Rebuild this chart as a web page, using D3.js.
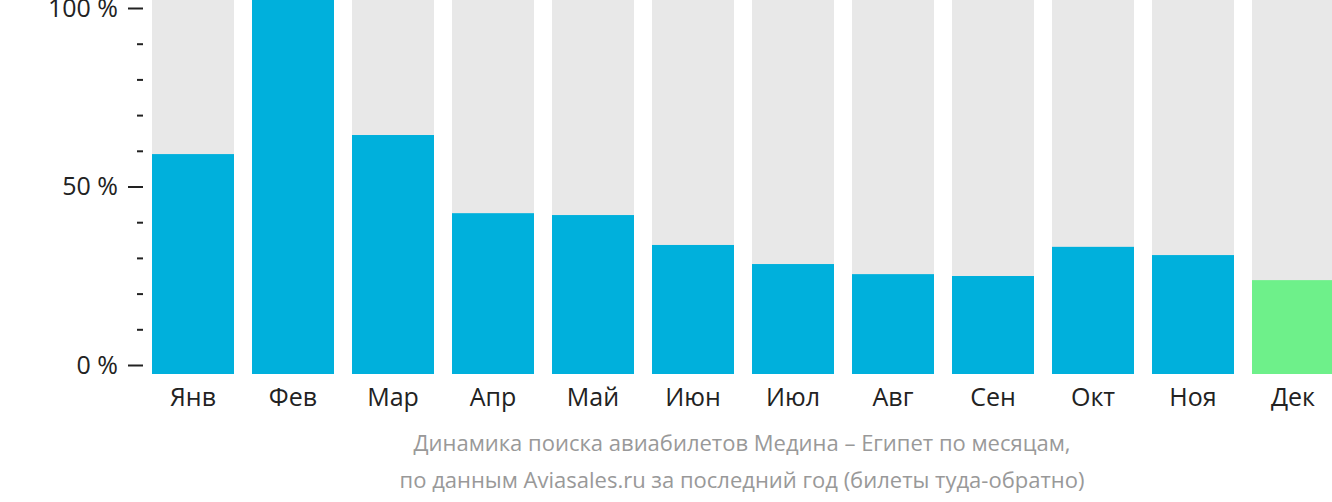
<!DOCTYPE html>
<html><head><meta charset="utf-8">
<script src="https://cdnjs.cloudflare.com/ajax/libs/d3/7.8.5/d3.min.js"></script>
<style>body{margin:0;background:#fff;}svg{display:block;font-family:"Open Sans",sans-serif;}</style>
</head><body>
<script>
const months = ["Янв","Фев","Мар","Апр","Май","Июн","Июл","Авг","Сен","Окт","Ноя","Дек"];
const values = [58.8,100,63.9,43.0,42.5,34.5,29.4,26.7,26.2,34.0,31.8,25.1];
const highlight = "Дек";
const majorTicks = [0,50,100];
const minorTicks = [10,20,30,40,60,70,80,90];
const caption = ["Динамика поиска авиабилетов Медина – Египет по месяцам,","по данным Aviasales.ru за последний год (билеты туда-обратно)"];

const W=1332,H=502;
const svg=d3.select("body").append("svg").attr("width",W).attr("height",H);
const x=d3.scaleBand().domain(months).range([152,1334]).paddingInner(0.18).paddingOuter(0);
const yBar=d3.scaleLinear().domain([0,100]).range([374,0]);
const yAx=d3.scaleLinear().domain([0,100]).range([365,8]);

svg.selectAll("rect.bg").data(months).join("rect").attr("class","bg")
 .attr("x",d=>x(d)).attr("width",x.bandwidth()).attr("y",yBar(100)).attr("height",yBar(0)-yBar(100)).attr("fill","#e8e8e8");
svg.selectAll("rect.v").data(values).join("rect").attr("class","v")
 .attr("x",(d,i)=>x(months[i])).attr("width",x.bandwidth()).attr("y",d=>yBar(d)).attr("height",d=>yBar(0)-yBar(d))
 .attr("fill",(d,i)=>months[i]===highlight?"#6ef08a":"#00b0dc");

const major=d3.axisLeft(yAx).tickValues(majorTicks).tickSize(15).tickPadding(10).tickFormat(d=>d+" %");
const gM=svg.append("g").attr("transform","translate(143,0)").call(major);
gM.select(".domain").remove();
gM.selectAll("line").attr("stroke","#222").attr("stroke-width",2);
gM.selectAll("text").attr("fill","#222").style("font-size","25px").style("font-family","'Open Sans',sans-serif");
const minor=d3.axisLeft(yAx).tickValues(minorTicks).tickSize(6).tickFormat("");
const gm=svg.append("g").attr("transform","translate(143,0)").call(minor);
gm.select(".domain").remove();
gm.selectAll("line").attr("stroke","#222").attr("stroke-width",2);

const xa=d3.axisBottom(x).tickSize(0).tickPadding(8);
const gx=svg.append("g").attr("transform","translate(0,374)").call(xa);
gx.select(".domain").remove();
gx.selectAll("text").attr("fill","#222").style("font-size","25px").style("font-family","'Open Sans',sans-serif").attr("dy","0.95em");

svg.selectAll("text.cap").data(caption).join("text").attr("class","cap")
 .attr("x",742).attr("y",(d,i)=>451+i*37).attr("text-anchor","middle").attr("fill","#999")
 .style("font-size","22px").text(d=>d);
</script>
</body></html>
